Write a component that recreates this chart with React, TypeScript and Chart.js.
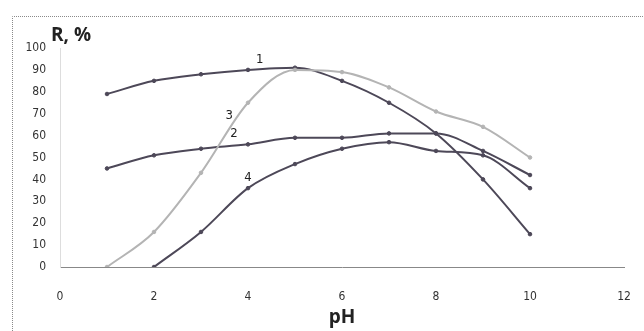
import React, { useEffect, useRef } from "react";
import { Chart, registerables } from "chart.js";

Chart.register(...registerables);

const phValues = [1, 2, 3, 4, 5, 6, 7, 8, 9, 10];
const series1 = [79, 85, 88, 90, 91, 85, 75, 61, 40, 15];
const series2 = [45, 51, 54, 56, 59, 59, 61, 61, 53, 42];
const series3 = [0, 16, 43, 75, 90, 89, 82, 71, 64, 50];
const series4 = [null, 0, 16, 36, 47, 54, 57, 53, 51, 36];
const curveLabels = ["1", "2", "3", "4"];
const labelPositions = [
  [4.25, 94.5],
  [3.7, 61],
  [3.6, 69],
  [4.0, 41],
];
const xTicks = [0, 2, 4, 6, 8, 10, 12];
const yTicks = [0, 10, 20, 30, 40, 50, 60, 70, 80, 90, 100];

const DARK = "#4d4858";
const LIGHT = "#b4b4b4";
const FONT = "'Liberation Sans Narrow', 'DejaVu Sans Condensed', 'Liberation Sans', sans-serif";

function toPoints(vals: (number | null)[]) {
  return phValues
    .map((x, i) => ({ x, y: vals[i] }))
    .filter((p) => p.y !== null) as { x: number; y: number }[];
}

const decorPlugin = {
  id: "decor",
  beforeDraw(chart: any) {
    const ctx = chart.ctx;
    ctx.save();
    ctx.strokeStyle = "#8a8a8a";
    ctx.lineWidth = 1;
    ctx.setLineDash([1, 1]);
    ctx.beginPath();
    ctx.moveTo(12.5, 331);
    ctx.lineTo(12.5, 16.5);
    ctx.lineTo(644, 16.5);
    ctx.stroke();
    ctx.restore();
  },
  afterDatasetsDraw(chart: any) {
    const ctx = chart.ctx;
    const xs = chart.scales.x;
    const ys = chart.scales.y;
    ctx.save();
    ctx.fillStyle = "#222";
    ctx.font = `13px ${FONT}`;
    ctx.textAlign = "center";
    ctx.textBaseline = "middle";
    curveLabels.forEach((t, i) => {
      ctx.fillText(t, xs.getPixelForValue(labelPositions[i][0]), ys.getPixelForValue(labelPositions[i][1]));
    });
    ctx.font = `bold 19px 'Open Sans', 'DejaVu Sans', sans-serif`;
    ctx.textAlign = "left";
    ctx.fillText("R, %", 51, 36);
    ctx.textAlign = "center";
    ctx.fillText("pH", (xs.left + xs.right) / 2, 318);
    ctx.restore();
  },
};

export default function App() {
  const ref = useRef<HTMLCanvasElement>(null);
  useEffect(() => {
    if (!ref.current) return;
    const mk = (label: string, vals: (number | null)[], color: string) => ({
      label,
      data: toPoints(vals),
      borderColor: color,
      backgroundColor: color,
      borderWidth: 2,
      pointRadius: 1.8,
      pointBorderWidth: 1,
      tension: 0.4,
      cubicInterpolationMode: "monotone" as const,
    });
    const chart = new Chart(ref.current, {
      type: "line",
      data: {
        datasets: [
          mk("3", series3, LIGHT),
          mk("1", series1, DARK),
          mk("2", series2, DARK),
          mk("4", series4, DARK),
        ],
      },
      plugins: [decorPlugin],
      options: {
        animation: false,
        responsive: false,
        layout: { padding: { top: 48, right: 20, bottom: 0, left: 0 } },
        plugins: { legend: { display: false }, tooltip: { enabled: false } },
        scales: {
          x: {
            type: "linear",
            min: 0,
            max: 12,
            afterBuildTicks: (s: any) => {
              s.ticks = xTicks.map((v) => ({ value: v }));
            },
            afterFit: (s: any) => {
              s.height = 64;
              s.paddingLeft = 0;
              s.paddingRight = 0;
            },
            grid: { display: false, drawTicks: false },
            border: { display: true, color: "#888", dash: [2, 1], width: 1 },
            ticks: { color: "#333", font: { family: FONT, size: 12 }, padding: 23 },
          },
          y: {
            min: 0,
            max: 100,
            afterBuildTicks: (s: any) => {
              s.ticks = yTicks.map((v) => ({ value: v }));
            },
            afterFit: (s: any) => {
              s.width = 60;
              s.paddingTop = 0;
              s.paddingBottom = 0;
            },
            grid: { display: false, drawTicks: false },
            border: { display: true, color: "#ddd", dash: [1, 1], width: 1 },
            ticks: { color: "#333", font: { family: FONT, size: 12 }, padding: 14 },
          },
        },
      },
    });
    return () => chart.destroy();
  }, []);
  return (
    <div style={{ position: "fixed", left: 0, top: 0, width: 644, height: 331, background: "#fff" }}>
      <canvas ref={ref} width={644} height={331} style={{ display: "block" }} />
    </div>
  );
}
